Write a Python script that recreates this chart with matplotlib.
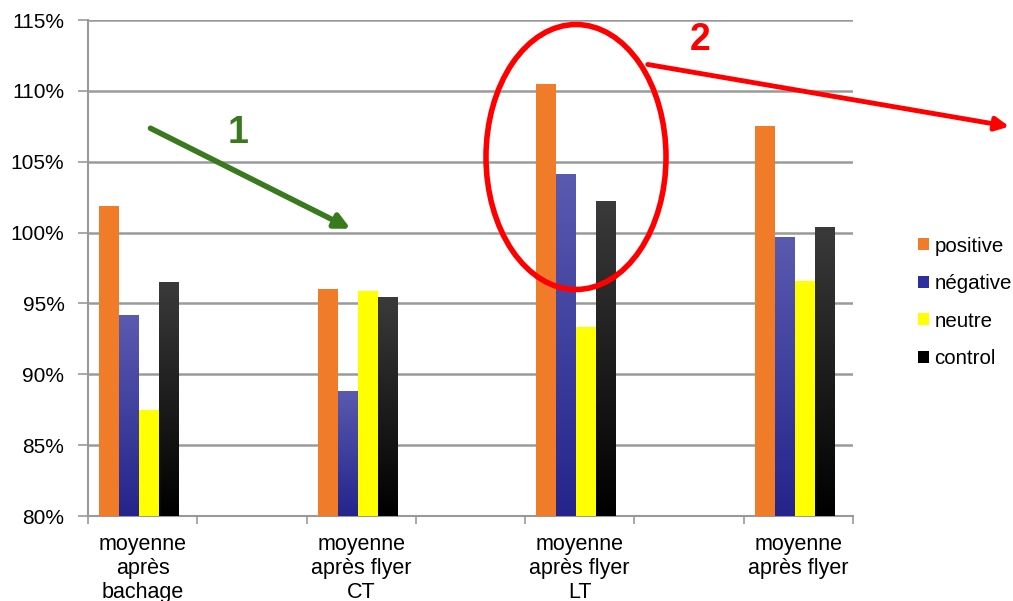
import numpy as np
import matplotlib
matplotlib.use("Agg")
import matplotlib.pyplot as plt
from matplotlib.patches import Ellipse
from matplotlib.colors import LinearSegmentedColormap

plt.rcParams['font.family'] = ['Liberation Sans', 'DejaVu Sans']

categories = ["moyenne\naprès\nbachage", "", "moyenne\naprès flyer\nCT", "",
              "moyenne\naprès flyer\nLT", "", "moyenne\naprès flyer"]
data_idx = [0, 2, 4, 6]
series = ["positive", "négative", "neutre", "control"]
positive = [101.9, 96.05, 110.45, 107.5]
negative = [94.15, 88.85, 104.1, 99.7]
neutre = [87.5, 95.9, 93.35, 96.6]
control = [96.5, 95.45, 102.2, 100.4]
yticks = [80, 85, 90, 95, 100, 105, 110, 115]

colors = ["#F07C2A", "#2E2E9E", "#FFFF00", "#000000"]
gradients = [None, ("#5A5AB0", "#24248C"), None, ("#3A3A3A", "#000000")]

fig = plt.figure(figsize=(10.13, 6.01), dpi=100)
ax = fig.add_axes([0.0869, 0.1414, 0.755, 0.8253])

x = np.array(data_idx, dtype=float)
w = 0.183
vals = [positive, negative, neutre, control]
for k, (name, v) in enumerate(zip(series, vals)):
    pos = x + (k - 1.5) * w - 0.03
    bars = ax.bar(pos, np.array(v) - 80, bottom=80, width=w, color=colors[k],
                  label=name, zorder=3, edgecolor='none')
    if gradients[k] is not None:
        cmap = LinearSegmentedColormap.from_list("g", [gradients[k][1], gradients[k][0]])
        for b in bars:
            bx, by = b.get_x(), b.get_y()
            im = ax.imshow(np.linspace(0, 1, 100).reshape(-1, 1), cmap=cmap,
                           extent=[bx, bx + b.get_width(), by, by + b.get_height()],
                           origin='lower', aspect='auto', zorder=3.5)
            im.set_clip_path(b)

ax.set_xlim(-0.5, 6.5)
ax.set_ylim(80, 115)
ax.set_yticks(yticks)
ax.set_yticklabels([f"{t}%" for t in yticks], fontsize=15)
ax.set_xticks(range(len(categories)))
ax.set_xticklabels(categories, fontsize=15.5, linespacing=1.17)
ax.set_xticks(np.arange(-0.5, 7.0, 1.0), minor=True)
ax.tick_params(axis='x', which='major', length=0, pad=13)
ax.tick_params(axis='x', which='minor', length=6, color='#999999', width=1.2)
ax.tick_params(axis='y', length=7, color='#999999', width=1.2, pad=10)
ax.grid(axis='y', color='#9a9a9a', linewidth=1.8, zorder=0)
for s in ['top', 'right']:
    ax.spines[s].set_visible(False)
for s in ['left', 'bottom']:
    ax.spines[s].set_color('#999999')
    ax.spines[s].set_linewidth(1.5)

ax.legend(loc='center left', bbox_to_anchor=(0.888, 0.497), bbox_transform=fig.transFigure,
          frameon=False, fontsize=14.8, handlelength=0.55, handleheight=0.55,
          handletextpad=0.25, labelspacing=0.9)

# annotations (figure pixel coords)
W, H = 1013, 601
def fp(px, py):
    return (px / W, 1 - py / H)

fig.add_artist(Ellipse(fp(576, 157), 180 / W, 265 / H, transform=fig.transFigure,
                       fill=False, edgecolor='#FF0000', linewidth=4, zorder=10))
ax.annotate("", xy=fp(353, 230), xytext=fp(148, 127), xycoords='figure fraction',
            textcoords='figure fraction',
            arrowprops=dict(arrowstyle='-|>', color='#3A7A1E', lw=4, mutation_scale=22))
fig.text(*fp(238, 133), "1", color='#3A7A1E', fontsize=27, fontweight='bold',
         ha='center', va='center')
ax.annotate("", xy=fp(1012, 127), xytext=fp(645, 64), xycoords='figure fraction',
            textcoords='figure fraction',
            arrowprops=dict(arrowstyle='-|>', color='#FF0000', lw=3.5, mutation_scale=20))
fig.text(*fp(700, 40), "2", color='#FF0000', fontsize=27, fontweight='bold',
         ha='center', va='center')

fig.savefig("out.png", dpi=100)
